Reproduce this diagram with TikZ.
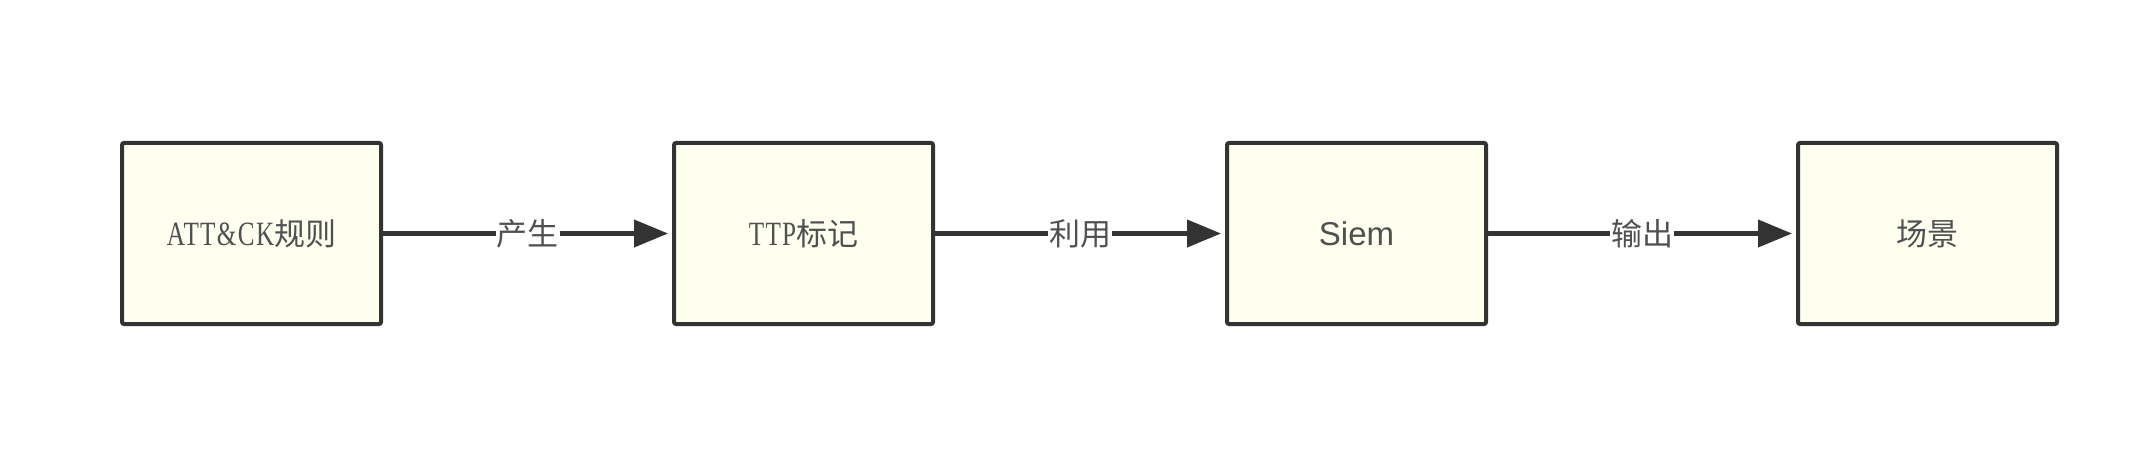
\documentclass[tikz,border=0pt]{standalone}
\usepackage{fontspec}
\newfontfamily\cjk{Noto Sans CJK SC}
\newfontfamily\serf[FakeStretch=0.74,LetterSpace=4]{Liberation Serif}
\newfontfamily\sansf{Liberation Sans}
\usetikzlibrary{arrows.meta}
\definecolor{edge}{HTML}{333333}
\definecolor{boxfill}{HTML}{FEFFEE}
\definecolor{txt}{HTML}{505050}
\tikzset{
  stepbox/.style={draw=edge, line width=4pt, fill=boxfill, rounded corners=2pt,
    minimum width=259pt, minimum height=181pt, inner sep=0pt, text=txt},
  conn/.style={draw=edge, line width=4pt, -{Triangle[length=34pt,width=27pt]}, shorten >=4pt},
  lbl/.style={fill=white, inner sep=1pt, text=txt, font=\cjk\fontsize{31}{36}\selectfont},
}
\begin{document}
\begin{tikzpicture}[x=1pt,y=-1pt]
\useasboundingbox (0,0) rectangle (2144,449);
\fill[white] (0,0) rectangle (2144,449);
\node[stepbox] (b1) at (251.5,233.5) {{\serf\fontsize{34}{36}\selectfont ATT\&CK}{\cjk\fontsize{31}{36}\selectfont 规则}};
\node[stepbox] (b2) at (803.5,233.5) {{\serf\fontsize{34}{36}\selectfont TTP}{\cjk\fontsize{31}{36}\selectfont 标记}};
\node[stepbox] (b3) at (1356.5,233.5) {\fontsize{33}{38}\selectfont\sansf Siem};
\node[stepbox] (b4) at (1927.5,233.5) {\fontsize{31}{36}\selectfont\cjk 场景};
\draw[conn] (b1) -- node[lbl] (l1) {产生} (b2);
\draw[conn] (b2) -- node[lbl] (l2) {利用} (b3);
\draw[conn] (b3) -- node[lbl] (l3) {输出} (b4);
\end{tikzpicture}
\end{document}
